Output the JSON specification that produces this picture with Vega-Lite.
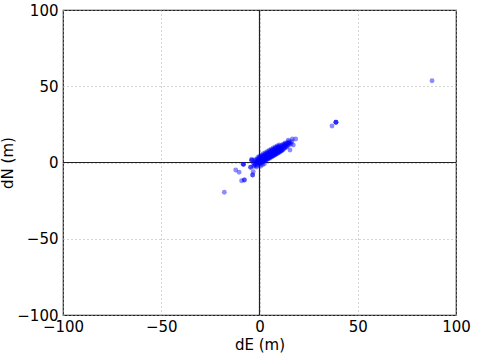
{
  "$schema": "https://vega.github.io/schema/vega-lite/v6.json",
  "width": 393,
  "height": 305,
  "autosize": {"type": "none"},
  "padding": {"left": 63, "top": 10, "right": 24, "bottom": 39},
  "background": "white",
  "config": {
    "font": "DejaVu Sans",
    "view": {"stroke": "#222222", "strokeWidth": 1.2},
    "axis": {
      "labelFont": "DejaVu Sans",
      "titleFont": "DejaVu Sans",
      "labelFontSize": 15,
      "titleFontSize": 15,
      "titleFontWeight": "normal",
      "labelColor": "black",
      "titleColor": "black",
      "domain": false,
      "ticks": false,
      "grid": true,
      "gridColor": "#a8a8a8",
      "gridDash": [1, 3],
      "gridWidth": 1,
      "gridOpacity": 1,
      "labelOverlap": false,
      "labelFlush": false,
      "labelBound": false
    }
  },
  "datasets": {
    "pts": [
      {"dE": -3, "dN": -2.5}, {"dE": -3, "dN": -0.5}, {"dE": -2.8, "dN": 1.5},
      {"dE": -2, "dN": -2.2}, {"dE": -2.2, "dN": -0.8}, {"dE": -1.8, "dN": 0.5}, {"dE": -2, "dN": 1.8},
      {"dE": -1, "dN": -1.8}, {"dE": -1.2, "dN": -0.4}, {"dE": -0.8, "dN": 0.9}, {"dE": -1, "dN": 2.2}, {"dE": -0.9, "dN": 3.3},
      {"dE": 0, "dN": -1}, {"dE": 0.2, "dN": 0.4}, {"dE": -0.2, "dN": 1.6}, {"dE": 0.1, "dN": 3}, {"dE": 0, "dN": 4.2},
      {"dE": 1, "dN": -0.3}, {"dE": 1.2, "dN": 1.1}, {"dE": 0.8, "dN": 2.4}, {"dE": 1.1, "dN": 3.8}, {"dE": 0.9, "dN": 5},
      {"dE": 2, "dN": 0.5}, {"dE": 2.2, "dN": 1.8}, {"dE": 1.8, "dN": 3.2}, {"dE": 2.1, "dN": 4.5}, {"dE": 2, "dN": 5.8},
      {"dE": 3, "dN": 1.2}, {"dE": 3.2, "dN": 2.6}, {"dE": 2.8, "dN": 3.9}, {"dE": 3.1, "dN": 5.3}, {"dE": 3, "dN": 6.5},
      {"dE": 4, "dN": 2}, {"dE": 4.2, "dN": 3.3}, {"dE": 3.8, "dN": 4.7}, {"dE": 4.1, "dN": 6}, {"dE": 4, "dN": 7.3},
      {"dE": 5, "dN": 2.7}, {"dE": 5.2, "dN": 4.1}, {"dE": 4.8, "dN": 5.4}, {"dE": 5.1, "dN": 6.8}, {"dE": 5, "dN": 8},
      {"dE": 6, "dN": 3.5}, {"dE": 6.2, "dN": 4.8}, {"dE": 5.8, "dN": 6.2}, {"dE": 6.1, "dN": 7.5}, {"dE": 6, "dN": 8.8},
      {"dE": 7, "dN": 4.2}, {"dE": 7.2, "dN": 5.6}, {"dE": 6.8, "dN": 6.9}, {"dE": 7.1, "dN": 8.3}, {"dE": 7, "dN": 9.5},
      {"dE": 8, "dN": 5}, {"dE": 8.2, "dN": 6.3}, {"dE": 7.8, "dN": 7.7}, {"dE": 8.1, "dN": 9}, {"dE": 8, "dN": 10.2},
      {"dE": 9, "dN": 5.8}, {"dE": 9.2, "dN": 7.1}, {"dE": 8.8, "dN": 8.4}, {"dE": 9.1, "dN": 9.8}, {"dE": 9, "dN": 10.9},
      {"dE": 10, "dN": 6.6}, {"dE": 10.2, "dN": 7.9}, {"dE": 9.8, "dN": 9.2}, {"dE": 10.1, "dN": 10.5}, {"dE": 10, "dN": 11.5},
      {"dE": 11, "dN": 7.5}, {"dE": 11.2, "dN": 8.8}, {"dE": 10.8, "dN": 10}, {"dE": 11.1, "dN": 11.3},
      {"dE": 12, "dN": 8.3}, {"dE": 12.2, "dN": 9.6}, {"dE": 11.8, "dN": 10.8}, {"dE": 12.1, "dN": 12},
      {"dE": 13, "dN": 9.5}, {"dE": 13.2, "dN": 10.6}, {"dE": 12.8, "dN": 11.8}, {"dE": 13, "dN": 12.8},
      {"dE": 14, "dN": 10.5}, {"dE": 14.2, "dN": 11.6}, {"dE": 13.8, "dN": 12.8},
      {"dE": 15, "dN": 11.5}, {"dE": 15.2, "dN": 12.8}, {"dE": 14.8, "dN": 13.6},
      {"dE": 16, "dN": 12.2}, {"dE": 16.5, "dN": 13.8}, {"dE": 14.7, "dN": 14.7}, {"dE": 16.7, "dN": 15.4},
      {"dE": 18.4, "dN": 15.4}, {"dE": 17.2, "dN": 11.5}, {"dE": 15.5, "dN": 8.2},
      {"dE": -2.5, "dN": -1.5}, {"dE": -1.6, "dN": 0}, {"dE": -0.5, "dN": 1.2}, {"dE": -0.4, "dN": -0.6}, {"dE": 0.6, "dN": 2},
      {"dE": 0.5, "dN": 0.2}, {"dE": 1.5, "dN": 3}, {"dE": 1.6, "dN": 0.8}, {"dE": 2.5, "dN": 3.8}, {"dE": 2.6, "dN": 1.6},
      {"dE": 3.5, "dN": 4.5}, {"dE": 3.6, "dN": 2.3}, {"dE": 4.5, "dN": 5.2}, {"dE": 4.6, "dN": 3}, {"dE": 5.5, "dN": 6},
      {"dE": 5.6, "dN": 3.8}, {"dE": 6.5, "dN": 6.8}, {"dE": 6.6, "dN": 4.6}, {"dE": 7.5, "dN": 7.5}, {"dE": 7.6, "dN": 5.3},
      {"dE": 8.5, "dN": 8.3}, {"dE": 8.6, "dN": 6}, {"dE": 9.5, "dN": 9}, {"dE": 9.6, "dN": 6.9}, {"dE": 10.5, "dN": 9.8},
      {"dE": 10.6, "dN": 7.6}, {"dE": 11.5, "dN": 10.5}, {"dE": 11.6, "dN": 8.6}, {"dE": 12.5, "dN": 11.2}, {"dE": 12.6, "dN": 9.4},
      {"dE": 13.5, "dN": 12}, {"dE": 13.6, "dN": 10.4}, {"dE": 14.5, "dN": 12.5}, {"dE": 15.5, "dN": 13},
      {"dE": -1.5, "dN": 0.8}, {"dE": -0.6, "dN": 2.5}, {"dE": 0.4, "dN": 3.5}, {"dE": 1.4, "dN": 4.2}, {"dE": 2.4, "dN": 5}, 
      {"dE": 3.4, "dN": 5.8}, {"dE": 4.4, "dN": 6.5}, {"dE": 5.4, "dN": 7.3}, {"dE": 6.4, "dN": 8}, {"dE": 7.4, "dN": 8.8},
      {"dE": 8.4, "dN": 9.5}, {"dE": 9.4, "dN": 10.2}, {"dE": 0.4, "dN": -0.5}, {"dE": 1.4, "dN": 0.2}, {"dE": 2.4, "dN": 1},
      {"dE": 3.4, "dN": 1.8}, {"dE": 4.4, "dN": 2.6}, {"dE": 5.4, "dN": 3.3}, {"dE": 6.4, "dN": 4.1}, {"dE": 7.4, "dN": 4.8},
      {"dE": 8.4, "dN": 5.6}, {"dE": 9.4, "dN": 6.3}, {"dE": 10.4, "dN": 7.1}, {"dE": 11.4, "dN": 7.9},
      {"dE": 1, "dN": 1.5}, {"dE": 2, "dN": 2.5}, {"dE": 3, "dN": 3.2}, {"dE": 4, "dN": 4}, {"dE": 5, "dN": 4.8},
      {"dE": 6, "dN": 5.5}, {"dE": 7, "dN": 6.2}, {"dE": 8, "dN": 7}, {"dE": 9, "dN": 7.8}, {"dE": 10, "dN": 8.5},
      {"dE": 0, "dN": 0}, {"dE": 0.5, "dN": -2.5}, {"dE": 1.5, "dN": -1.5}, {"dE": -1.5, "dN": -3}, {"dE": 2.5, "dN": -0.8},
      {"dE": -17.9, "dN": -19.5}, {"dE": -7.7, "dN": -11.5}, {"dE": -7.7, "dN": -11.5},
      {"dE": -9.1, "dN": -12}, {"dE": -12.1, "dN": -4.9}, {"dE": -10.4, "dN": -6.4},
      {"dE": -8.2, "dN": -1.2}, {"dE": -8.2, "dN": -1.2}, {"dE": -8.2, "dN": -1.2},
      {"dE": -4, "dN": 1.4}, {"dE": -4, "dN": 1.4}, {"dE": -4, "dN": 2.1},
      {"dE": -4.5, "dN": -3.1}, {"dE": -4.5, "dN": -3.1}, {"dE": -3.2, "dN": -6}, {"dE": -3.5, "dN": -8.2},
      {"dE": -3.5, "dN": -8.2},
      {"dE": 36.9, "dN": 23.9}, {"dE": 38.9, "dN": 26.4}, {"dE": 38.9, "dN": 26.4}, {"dE": 38.9, "dN": 26.4},
      {"dE": 87.8, "dN": 53.6}
    ],
    "zero": [{"v": 0}]
  },
  "layer": [
    {
      "data": {"name": "zero"},
      "mark": {"type": "rule", "color": "#222222", "strokeWidth": 1.2},
      "encoding": {"x": {"field": "v", "type": "quantitative"}}
    },
    {
      "data": {"name": "zero"},
      "mark": {"type": "rule", "color": "#222222", "strokeWidth": 1.2},
      "encoding": {"y": {"field": "v", "type": "quantitative"}}
    },
    {
      "data": {"name": "pts"},
      "mark": {"type": "circle", "color": "#0000ff", "opacity": 0.45, "size": 24},
      "encoding": {
        "x": {
          "field": "dE", "type": "quantitative",
          "scale": {"domain": [-100, 100], "nice": false, "zero": false},
          "axis": {"title": "dE (m)", "values": [-100, -50, 0, 50, 100], "format": "d", "labelPadding": 4, "titlePadding": 3}
        },
        "y": {
          "field": "dN", "type": "quantitative",
          "scale": {"domain": [-100, 100], "nice": false, "zero": false},
          "axis": {"title": "dN (m)", "values": [-100, -50, 0, 50, 100], "format": "d", "labelPadding": 5, "titlePadding": 1}
        }
      }
    }
  ]
}
